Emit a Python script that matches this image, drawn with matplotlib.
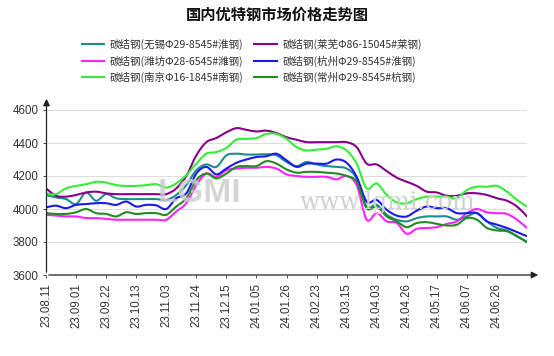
import matplotlib.pyplot as plt
import numpy as np
from matplotlib.patches import Ellipse, PathPatch
from matplotlib.path import Path
from matplotlib.lines import Line2D

plt.rcParams['font.family'] = ['Liberation Sans', 'DejaVu Sans']
cjk = ['Noto Sans CJK SC', 'DejaVu Sans']

# every third category is labelled; the last three points carry no label
tick_labels = ["23.08.11", "23.09.01", "23.09.22", "23.10.13", "23.11.03", "23.11.24",
               "23.12.15", "24.01.05", "24.01.26", "24.02.23", "24.03.15", "24.04.03",
               "24.04.26", "24.05.17", "24.06.07", "24.06.26"]

wuxi = [4085, 4070, 4060, 4030, 4100, 4050, 4090, 4065, 4060, 4060, 4060, 4060, 4055, 4085,
        4145, 4235, 4270, 4255, 4325, 4335, 4330, 4330, 4332, 4325, 4285, 4260, 4285, 4270,
        4260, 4255, 4245, 4185, 4015, 4025, 3965, 3935, 3925, 3945, 3955, 3955, 3955, 3935,
        3955, 3975, 3925, 3885, 3870, 3835, 3800]
laiwu = [4125, 4080, 4075, 4085, 4100, 4105, 4095, 4090, 4090, 4090, 4090, 4090, 4090, 4125,
         4200, 4325, 4405, 4430, 4465, 4490, 4480, 4470, 4475, 4460, 4435, 4420, 4405, 4405,
         4405, 4405, 4405, 4375, 4275, 4270, 4230, 4190, 4165, 4140, 4105, 4100, 4080, 4080,
         4095, 4095, 4085, 4065, 4050, 4015, 3955]
weifang = [3965, 3960, 3955, 3955, 3945, 3945, 3940, 3935, 3935, 3935, 3935, 3935, 3935, 3985,
           4035, 4145, 4215, 4195, 4235, 4245, 4250, 4250, 4255, 4245, 4210, 4200, 4195, 4195,
           4195, 4180, 4200, 4145, 3935, 3975, 3925, 3915, 3850, 3880, 3885, 3890, 3910, 3925,
           3975, 4000, 3980, 3975, 3970, 3935, 3885]
hangzhou = [4010, 4020, 4005, 4025, 4030, 4035, 4035, 4025, 4045, 4015, 4025, 4022, 4000, 4065,
            4095, 4215, 4255, 4210, 4245, 4280, 4300, 4315, 4320, 4335, 4295, 4255, 4275, 4275,
            4275, 4300, 4280, 4195, 4045, 4055, 3995, 3960, 3955, 3990, 4015, 4005, 4005, 3975,
            3975, 3975, 3925, 3905, 3885, 3860, 3835]
nanjing = [4095, 4090, 4125, 4140, 4150, 4165, 4160, 4145, 4140, 4140, 4145, 4150, 4130, 4155,
           4205, 4275, 4335, 4345, 4370, 4420, 4425, 4430, 4455, 4455, 4425, 4375, 4355, 4360,
           4365, 4380, 4355, 4275, 4125, 4155, 4085, 4040, 4035, 4060, 4075, 4075, 4075, 4065,
           4115, 4135, 4135, 4140, 4105, 4055, 4015]
changzhou = [3975, 3970, 3970, 3980, 4000, 3975, 3970, 3955, 3980, 3970, 3975, 3975, 3965, 4015,
             4065, 4175, 4215, 4185, 4215, 4255, 4260, 4260, 4290, 4275, 4240, 4220, 4225, 4225,
             4220, 4215, 4200, 4165, 4005, 4015, 3955, 3925, 3890, 3915, 3920, 3910, 3900, 3905,
             3945, 3935, 3885, 3870, 3865, 3835, 3800]

series = [
    ("碳结钢(无锡Φ29-8545#淮钢)", wuxi, "#1f8c8c"),
    ("碳结钢(莱芜Φ86-15045#莱钢)", laiwu, "#880088"),
    ("碳结钢(潍坊Φ28-6545#潍钢)", weifang, "#ff22ff"),
    ("碳结钢(杭州Φ29-8545#淮钢)", hangzhou, "#1a1aee"),
    ("碳结钢(南京Φ16-1845#南钢)", nanjing, "#33ee33"),
    ("碳结钢(常州Φ29-8545#杭钢)", changzhou, "#228b22"),
]


def smooth_path(xs, ys):
    # catmull-rom style bezier through the data points
    pts = np.column_stack([xs, ys]).astype(float)
    n = len(pts)
    verts = [pts[0]]
    codes = [Path.MOVETO]
    for i in range(n - 1):
        p0 = pts[max(i - 1, 0)]
        p1 = pts[i]
        p2 = pts[i + 1]
        p3 = pts[min(i + 2, n - 1)]
        verts += [p1 + (p2 - p0) / 6, p2 - (p3 - p1) / 6, p2]
        codes += [Path.CURVE4] * 3
    return Path(verts, codes)


fig = plt.figure(figsize=(5.54, 3.56), dpi=100)
ax = fig.add_axes([46 / 554, 81 / 356, (527 - 46) / 554, 165 / 356])

x = np.arange(len(wuxi))
handles = []
for name, vals, col in series:
    ax.add_patch(PathPatch(smooth_path(x, vals), fill=False, edgecolor=col, lw=1.5,
                           zorder=3, capstyle='round', joinstyle='round'))
    handles.append(Line2D([], [], color=col, lw=1.5, label=name))

ax.set_xlim(0, len(wuxi) - 1)
ax.set_ylim(3600, 4600)
ax.set_yticks([3600, 3800, 4000, 4200, 4400, 4600])
ax.set_xticks(np.arange(0, 3 * len(tick_labels), 3))
ax.set_xticklabels(tick_labels, rotation=90)
ax.tick_params(axis='both', labelsize=8.3, colors='#333333', length=2, width=0.6)
ax.tick_params(axis='x', pad=4)
ax.grid(axis='y', color='#dddddd', lw=0.8, zorder=0)
ax.set_axisbelow(True)
for s in ['top', 'right', 'left', 'bottom']:
    ax.spines[s].set_visible(False)

# axis lines with arrow heads
arrow = dict(arrowstyle='-|>', color='#222222', lw=0.9, mutation_scale=10)
ax.annotate('', xy=(46.5 / 554, 1 - 96 / 356), xytext=(46.5 / 554, 1 - 275 / 356),
            xycoords='figure fraction', arrowprops=arrow)
ax.annotate('', xy=(541 / 554, 1 - 275 / 356), xytext=(46 / 554, 1 - 275 / 356),
            xycoords='figure fraction', arrowprops=arrow)

# faint watermark
fig.add_artist(Ellipse((203 / 554, 1 - 203 / 356), 122 / 554, 54 / 356,
                       color='#c2d7ee', alpha=0.55, zorder=0))
fig.text(200 / 554, 1 - 194 / 356, "LGMI", fontsize=24, color='#cccccc', alpha=0.8,
         ha='center', va='center', weight='bold', zorder=1)
fig.text(387 / 554, 1 - 203 / 356, "www.lgmi.com", fontsize=17, color='#d0d0d0',
         family='DejaVu Serif', ha='center', va='center', zorder=1)

fig.text(0.5, 1 - 15 / 356, "国内优特钢市场价格走势图", ha='center', va='center',
         fontsize=11, weight='bold', family=cjk, color='#111111')

# legend is filled row by row in the original
order = [0, 2, 4, 1, 3, 5]
fig.legend([handles[i] for i in order], [series[i][0] for i in order], ncol=2,
           loc='center', bbox_to_anchor=(252 / 554, 1 - 61 / 356), frameon=False,
           prop={'family': cjk, 'size': 7.6}, handlelength=2.1, handletextpad=0.55,
           columnspacing=1.0, labelspacing=0.5, labelcolor='#333333')

fig.savefig("out.png", dpi=100)
